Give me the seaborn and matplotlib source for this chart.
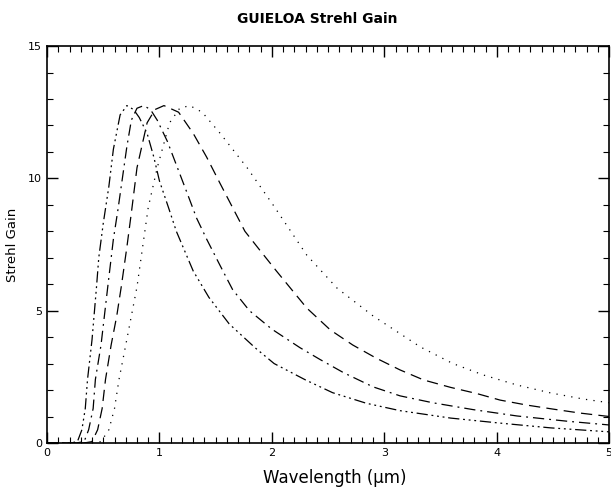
import numpy as np
import pandas as pd
import matplotlib
matplotlib.use("Agg")
import matplotlib.pyplot as plt
import seaborn as sns

# values (wavelength in um, Strehl gain)
x_dotted = [0.0, 0.40, 0.48, 0.55, 0.60, 0.64, 0.70, 0.75, 0.80, 0.85, 0.90, 0.98, 1.09, 1.18, 1.27,
            1.38, 1.54, 1.78, 2.01, 2.31, 2.58, 2.90, 3.32, 3.61, 3.88, 4.18, 4.48, 4.77, 5.0]
y_dotted = [0, 0, 0.05, 0.5, 1.3, 2.4, 3.7, 4.8, 5.9, 7.4, 8.9, 10.4, 12.1, 12.65, 12.75,
            12.5, 11.7, 10.4, 9.0, 7.1, 5.85, 4.8, 3.63, 3.0, 2.57, 2.19, 1.89, 1.66, 1.52]

x_dashed = [0.0, 0.33, 0.40, 0.45, 0.49, 0.52, 0.57, 0.62, 0.66, 0.71, 0.75, 0.80, 0.89, 0.96, 1.04,
            1.17, 1.30, 1.42, 1.54, 1.65, 1.76, 1.89, 2.04, 2.31, 2.52, 2.72, 2.93, 3.14, 3.35,
            3.59, 3.82, 4.03, 4.27, 4.50, 4.74, 5.0]
y_dashed = [0, 0, 0.05, 0.5, 1.3, 2.4, 3.7, 4.8, 5.9, 7.4, 8.7, 10.4, 12.1, 12.6, 12.75,
            12.5, 11.7, 10.8, 9.8, 8.9, 8.0, 7.3, 6.5, 5.1, 4.27, 3.7, 3.2, 2.76, 2.38,
            2.1, 1.87, 1.62, 1.43, 1.28, 1.13, 1.0]

x_dashdot = [0.0, 0.26, 0.33, 0.37, 0.41, 0.43, 0.48, 0.51, 0.54, 0.59, 0.63, 0.67, 0.71, 0.75, 0.80,
             0.86, 0.92, 0.98, 1.07, 1.16, 1.25, 1.33, 1.42, 1.54, 1.65, 1.80, 2.00, 2.25, 2.43,
             2.64, 2.90, 3.14, 3.43, 3.79, 4.18, 4.63, 5.0]
y_dashdot = [0, 0, 0.05, 0.5, 1.3, 2.4, 3.7, 4.8, 5.9, 7.7, 8.8, 10.0, 11.2, 12.2, 12.65,
             12.75, 12.6, 12.2, 11.4, 10.4, 9.4, 8.5, 7.7, 6.7, 5.8, 5.0, 4.3, 3.6, 3.15,
             2.65, 2.12, 1.78, 1.52, 1.26, 1.02, 0.82, 0.68]

x_dashdotdot = [0.0, 0.21, 0.27, 0.31, 0.34, 0.36, 0.40, 0.44, 0.46, 0.50, 0.55, 0.59, 0.65, 0.71,
                0.77, 0.82, 0.89, 0.95, 1.00, 1.08, 1.15, 1.23, 1.30, 1.44, 1.62, 1.85, 2.02,
                2.30, 2.54, 2.84, 3.14, 3.59, 4.03, 4.48, 5.0]
y_dashdotdot = [0, 0, 0.05, 0.5, 1.3, 2.4, 3.9, 5.9, 7.0, 8.3, 9.7, 11.1, 12.4, 12.75,
                12.6, 12.3, 11.7, 10.8, 9.9, 8.9, 8.0, 7.2, 6.5, 5.5, 4.5, 3.6, 3.0,
                2.38, 1.9, 1.5, 1.22, 0.94, 0.75, 0.57, 0.42]

curves = {
    "dotted": (x_dotted, y_dotted),
    "dashed": (x_dashed, y_dashed),
    "dashdot": (x_dashdot, y_dashdot),
    "dashdotdot": (x_dashdotdot, y_dashdotdot),
}
frames = [pd.DataFrame({"wavelength": xs, "gain": ys, "curve": name}) for name, (xs, ys) in curves.items()]
df = pd.concat(frames, ignore_index=True)

dash_styles = {
    "dotted": (1, 5),
    "dashed": (9, 5),
    "dashdot": (9, 4, 1.5, 4),
    "dashdotdot": (9, 3, 1.5, 3, 1.5, 3, 1.5, 3),
}

sns.set_style("ticks")
plt.rcParams["font.family"] = ["DejaVu Sans"]
plt.rcParams["text.color"] = "black"
plt.rcParams["axes.labelcolor"] = "black"

fig = plt.figure(figsize=(6.11, 4.90), dpi=100)
ax = fig.add_axes([0.077, 0.096, 0.920, 0.810])

sns.lineplot(data=df, x="wavelength", y="gain", style="curve", dashes=dash_styles,
             color="black", linewidth=0.9, sort=False, estimator=None, legend=False, ax=ax)

ax.set_xlim(0, 5)
ax.set_ylim(0, 15)
ax.set_xticks([0, 1, 2, 3, 4, 5])
ax.set_yticks([0, 5, 10, 15])
ax.set_xticks(np.arange(0, 5.01, 0.1), minor=True)
ax.set_yticks(np.arange(0, 15.01, 1), minor=True)
ax.tick_params(which="both", direction="in", top=True, right=True, colors="black", labelsize=8)
ax.tick_params(which="major", length=8, width=1)
ax.tick_params(which="minor", length=4, width=0.8)
for s in ax.spines.values():
    s.set_color("black")
    s.set_linewidth(1.2)

ax.set_xlabel("Wavelength (\u00b5m)", fontsize=12, color="black")
ax.set_ylabel("Strehl Gain", fontsize=9.5, color="black")
ax.xaxis.set_label_coords(0.512, -0.065)
ax.yaxis.set_label_coords(-0.05, 0.5)
fig.text(0.52, 0.962, "GUIELOA Strehl Gain", ha="center", va="center", fontsize=10,
         fontweight="bold", color="black")

fig.savefig("out.png", dpi=100)
